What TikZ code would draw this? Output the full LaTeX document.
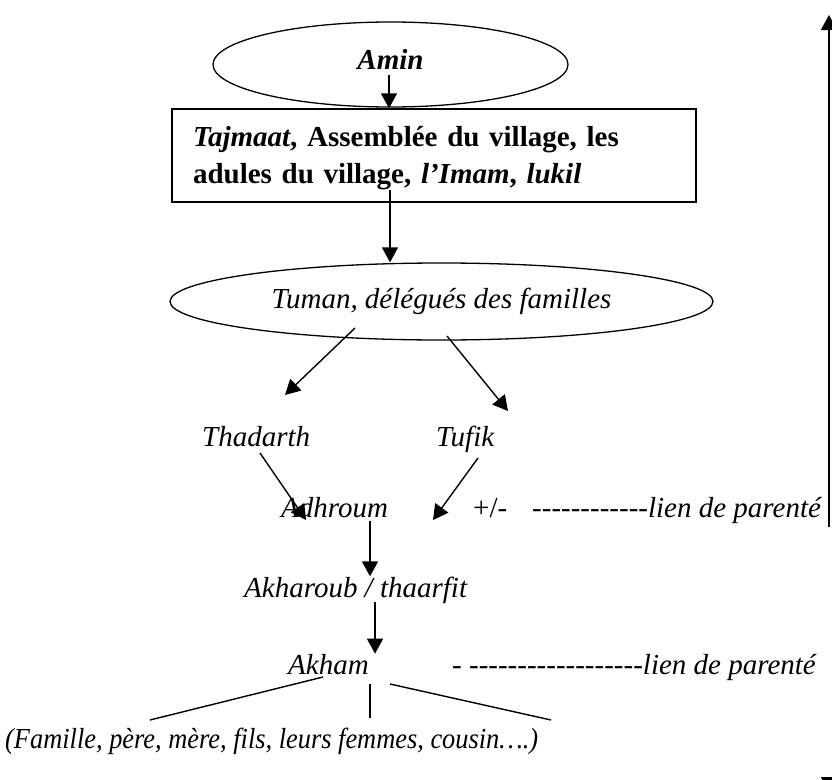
\documentclass[tikz,border=0pt]{standalone}
\usepackage{fontspec}
\setmainfont{Liberation Serif}
\newfontfamily\condfont{Liberation Serif}[FakeStretch=0.91]
\usetikzlibrary{shapes.geometric,arrows.meta}
\newcommand\hy{-\kern0pt}
\begin{document}
\begin{tikzpicture}[x=1pt,y=-1pt,
  txt/.style={inner sep=0pt,font=\fontsize{29}{37}\selectfont},
  itx/.style={inner sep=0pt,font=\fontsize{29}{37}\selectfont\itshape},
  edge/.style={line width=1.4pt},
  arr/.style={edge,-{Triangle[width=16pt,length=15pt]}},
  shapeline/.style={draw,line width=1.3pt,inner sep=0pt}]
\useasboundingbox (0,0) rectangle (832,779);
\fill[white] (0,0) rectangle (832,779);

% shapes
\node[shapeline,ellipse,minimum width=355pt,minimum height=85pt,text height=19.6pt,text depth=9pt,
  font=\fontsize{29}{37}\selectfont\bfseries\itshape] (amin) at (390.5,64.5) {Amin};
\node[shapeline,minimum width=524pt,minimum height=93pt,text width=482pt,align=left,
  font=\fontsize{29}{37}\selectfont\bfseries] (box) at (434,155.5)
  {\rule{0pt}{26pt}\textit{Tajmaat}, Assemblée du village, les\\adules du village, \textit{l’Imam}, \textit{lukil}};
\node[shapeline,ellipse,minimum width=543pt,minimum height=77pt,
  font=\fontsize{29}{37}\selectfont\itshape] (tuman) at (441.5,301.5) {Tuman, délégués des familles};

% texts
\node[itx,anchor=base west] (thad) at (202,446) {Thadarth};
\node[itx,anchor=base west] (tufik) at (436,446) {Tufik};
\node[itx,anchor=base west] (adh) at (281,517) {Adhroum};
\node[txt,anchor=base west] (pm) at (473,517) {+/-};
\node[txt,anchor=base west] (lien1) at (532,517)
  {\hy\hy\hy\hy\hy\hy\hy\hy\hy\hy\hy\hy\textit{lien de parenté}};
\node[itx,anchor=base west] (akh) at (244,597) {Akharoub / thaarfit};
\node[itx,anchor=base west] (akham) at (288,674) {Akham};
\node[txt,anchor=base west] (lien2) at (452,674)
  {\hy\ \hy\hy\hy\hy\hy\hy\hy\hy\hy\hy\hy\hy\hy\hy\hy\hy\hy\hy\textit{lien de parenté}};
\node[inner sep=0pt,anchor=base west,font=\fontsize{29}{37}\selectfont\condfont\itshape] (fam) at (5,748)
  {(Famille, père, mère, fils, leurs femmes, cousin….)};

% connectors
\coordinate (a1s) at (389,75);
\draw[arr] (a1s) -- (a1s |- box.north);
\coordinate (a2s) at (390,190);
\draw[arr] (a2s) -- (a2s |- tuman.north);
\coordinate (tl) at (355,328);
\coordinate (tlend) at (285,395);
\draw[arr] (tl) -- (tlend);
\coordinate (tr) at (447,336);
\coordinate (trend) at (508,411);
\draw[arr] (tr) -- (trend);
\coordinate (ths) at (260,453);
\coordinate (the) at (306,520);
\draw[arr] (ths) -- (the);
\coordinate (tus) at (478,458);
\coordinate (tue) at (433,520);
\draw[arr] (tus) -- (tue);
\coordinate (ads) at (370,521);
\draw[arr] (ads) -- (ads |- akh.north);
\coordinate (aks) at (375,602);
\draw[arr] (aks) -- (aks |- akham.north);
\coordinate (l1s) at (323,677);
\coordinate (l1e) at (150,720);
\draw[edge] (l1s) -- (l1e);
\coordinate (l2s) at (370,684);
\coordinate (l2e) at (370,718);
\draw[edge] (l2s) -- (l2e);
\coordinate (l3s) at (390,684);
\coordinate (l3e) at (551,720);
\draw[edge] (l3s) -- (l3e);

% right vertical arrow
\coordinate (vtop) at (829,15);
\coordinate (vmid) at (829,527);
\draw[arr] (vmid) -- (vtop);
\coordinate (vb0) at (829,777);
\coordinate (vb1) at (829,792);
\draw[arr] (vb0) -- (vb1);
\end{tikzpicture}
\end{document}
